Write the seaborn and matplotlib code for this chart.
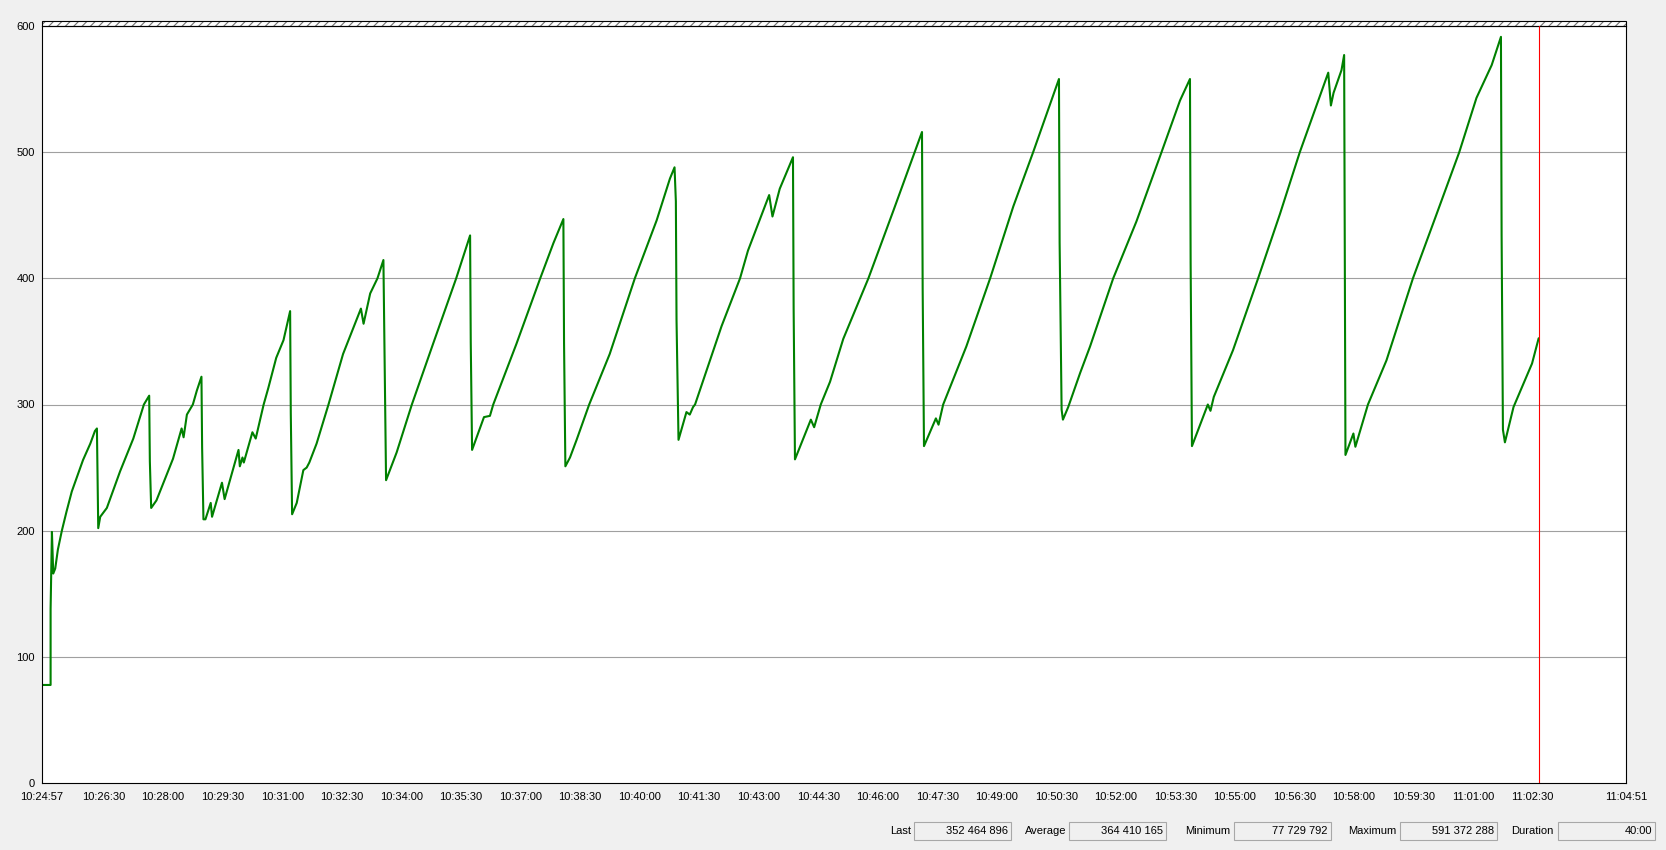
import matplotlib
matplotlib.use("Agg")
import matplotlib.pyplot as plt
from matplotlib.patches import Rectangle
import seaborn as sns
import pandas as pd

# ---- data (seconds after 10:24:57, value in millions of bytes) ----
seconds = [0, 13, 13, 15, 17, 20, 24, 30, 37, 45, 62, 73, 80, 83,
           84, 85, 88, 98, 118, 138, 154, 162,
           163, 165, 173, 198, 211, 214, 219, 228, 234, 241,
           242, 244, 247, 255, 257, 272, 276, 297, 299, 303, 305, 318, 323, 335, 342, 354, 365, 375,
           376, 378, 385, 395, 400, 404, 415, 433, 455, 482, 486, 496, 507, 516,
           518, 520, 536, 559, 591, 626, 647,
           648, 650, 668, 677, 682, 717, 753, 773, 788,
           789, 791, 798, 808, 827, 858, 896, 929, 949, 956,
           958, 959, 962, 974, 979, 984, 987, 1027, 1055, 1067, 1099, 1104, 1115, 1135,
           1136, 1138, 1156, 1162, 1167, 1177, 1191, 1211, 1249, 1287, 1319, 1330,
           1331, 1333, 1351, 1355, 1362, 1397, 1433, 1468, 1498, 1537,
           1538, 1541, 1543, 1551, 1569, 1584, 1619, 1654, 1692, 1720, 1735,
           1736, 1738, 1762, 1766, 1771, 1800, 1838, 1871, 1901, 1944, 1948, 1952, 1964, 1968,
           1969, 1970, 1982, 1985, 2004, 2032, 2072, 2105, 2142, 2168, 2191, 2205,
           2206, 2208, 2211, 2224, 2237, 2252, 2262]
memory_mb = [77.7, 77.7, 138, 199, 166, 170, 185, 200, 215, 231, 256, 269, 279, 281,
             241, 202, 211, 218, 247, 273, 300, 307,
             255, 218, 224, 257, 281, 274, 292, 300, 311, 322,
             266, 209, 209, 222, 211, 238, 225, 264, 251, 258, 254, 278, 273, 300, 313, 337, 351, 374,
             293, 213, 222, 248, 250, 254, 269, 300, 340, 376, 364, 388, 400, 414.5,
             329, 240, 262, 300, 348, 400, 434,
             349, 264, 290, 291, 300, 348, 400, 428, 447,
             349, 251, 258, 272, 300, 340, 400, 446, 479, 488,
             461, 367, 272, 294, 292, 298, 300, 362, 400, 422, 466, 449, 471, 496,
             376, 256.5, 280, 288, 282, 300, 318, 352, 400, 454, 500, 516,
             392, 267, 289, 284, 300, 346, 400, 457, 500, 558,
             428, 296, 288, 298, 325, 346, 400, 445, 500, 541, 558,
             412, 267, 300, 295, 306, 343, 400, 451, 500, 563, 537, 547, 565, 577,
             418, 260, 277, 266.5, 300, 335, 400, 447, 500, 543, 569, 591.4,
             434, 280, 270, 298, 314, 332.5, 352.5]

start_label = "10:24:57"
x_tick_labels = ["10:24:57", "10:26:30", "10:28:00", "10:29:30", "10:31:00", "10:32:30",
                 "10:34:00", "10:35:30", "10:37:00", "10:38:30", "10:40:00", "10:41:30",
                 "10:43:00", "10:44:30", "10:46:00", "10:47:30", "10:49:00", "10:50:30",
                 "10:52:00", "10:53:30", "10:55:00", "10:56:30", "10:58:00", "10:59:30",
                 "11:01:00", "11:02:30", "11:04:51"]
y_ticks = [0, 100, 200, 300, 400, 500, 600]
cursor_seconds = 2263

stat_labels = ["Last", "Average", "Minimum", "Maximum", "Duration"]
stat_values = ["352 464 896", "364 410 165", "77 729 792", "591 372 288", "40:00"]


def to_sec(s):
    h, m, sec = (int(p) for p in s.split(":"))
    return h * 3600 + m * 60 + sec


t0 = to_sec(start_label)
x_tick_pos = [to_sec(s) - t0 for s in x_tick_labels]

# ---- style ----
sns.set_style("white")
plt.rcParams["font.family"] = ["Liberation Sans", "DejaVu Sans"]
plt.rcParams["hatch.linewidth"] = 0.8

W, H = 1666, 850
fig = plt.figure(figsize=(W / 100, H / 100), dpi=100, facecolor="#F0F0F0")
ax_l, ax_r, ax_t, ax_b = 42, 1626, 26, 783
ax = fig.add_axes([ax_l / W, 1 - ax_b / H, (ax_r - ax_l) / W, (ax_b - ax_t) / H])
ax.set_facecolor("white")

df = pd.DataFrame({"t": seconds, "v": memory_mb})
sns.lineplot(data=df, x="t", y="v", ax=ax, estimator=None, sort=False,
             color="#008000", linewidth=1.5)

ax.axvline(cursor_seconds, color="#FF0000", linewidth=0.8, zorder=5)

ax.set_xlim(x_tick_pos[0], x_tick_pos[-1])
ax.set_ylim(0, 600)
ax.set_yticks(y_ticks)
ax.set_yticklabels([str(v) for v in y_ticks])
ax.set_xticks(x_tick_pos)
ax.set_xticklabels(x_tick_labels)
ax.set_xlabel("")
ax.set_ylabel("")
for y in y_ticks[1:-1]:
    ax.axhline(y, color="#A0A0A0", linewidth=0.8, zorder=0)

ax.tick_params(axis="both", direction="out", length=3.6, width=0.75, color="black",
               labelsize=8, labelcolor="black")
ax.tick_params(axis="y", pad=1.5)
ax.tick_params(axis="x", pad=3)
for s in ax.spines.values():
    s.set_visible(True)
    s.set_color("black")
    s.set_linewidth(0.8)

# hatched band above the plot
band_h = 5 / (ax_b - ax_t)
ax.add_patch(Rectangle((0, 1), 1, band_h, transform=ax.transAxes, clip_on=False,
                       facecolor="white", edgecolor="#707070", hatch="////", linewidth=0))
ax.add_patch(Rectangle((0, 1), 1, band_h, transform=ax.transAxes, clip_on=False,
                       facecolor="none", edgecolor="black", linewidth=0.8))

# statistics bar
label_right = [911, 1066, 1230, 1396, 1554]
box_left = [914, 1069, 1234, 1400, 1558]
box_w = 97
box_top, box_bot = 822, 840
yc = 1 - 831 / H
for lab, val, lr, bl in zip(stat_labels, stat_values, label_right, box_left):
    fig.text(lr / W, yc, lab, ha="right", va="center", fontsize=8, color="black")
    fig.patches.append(Rectangle((bl / W, 1 - box_bot / H), box_w / W, (box_bot - box_top) / H,
                                 transform=fig.transFigure, facecolor="#F0F0F0",
                                 edgecolor="#A8A8A8", linewidth=0.8))
    fig.text((bl + box_w - 3) / W, yc, val, ha="right", va="center", fontsize=8, color="black")

fig.savefig("out.png", dpi=100, facecolor=fig.get_facecolor())
